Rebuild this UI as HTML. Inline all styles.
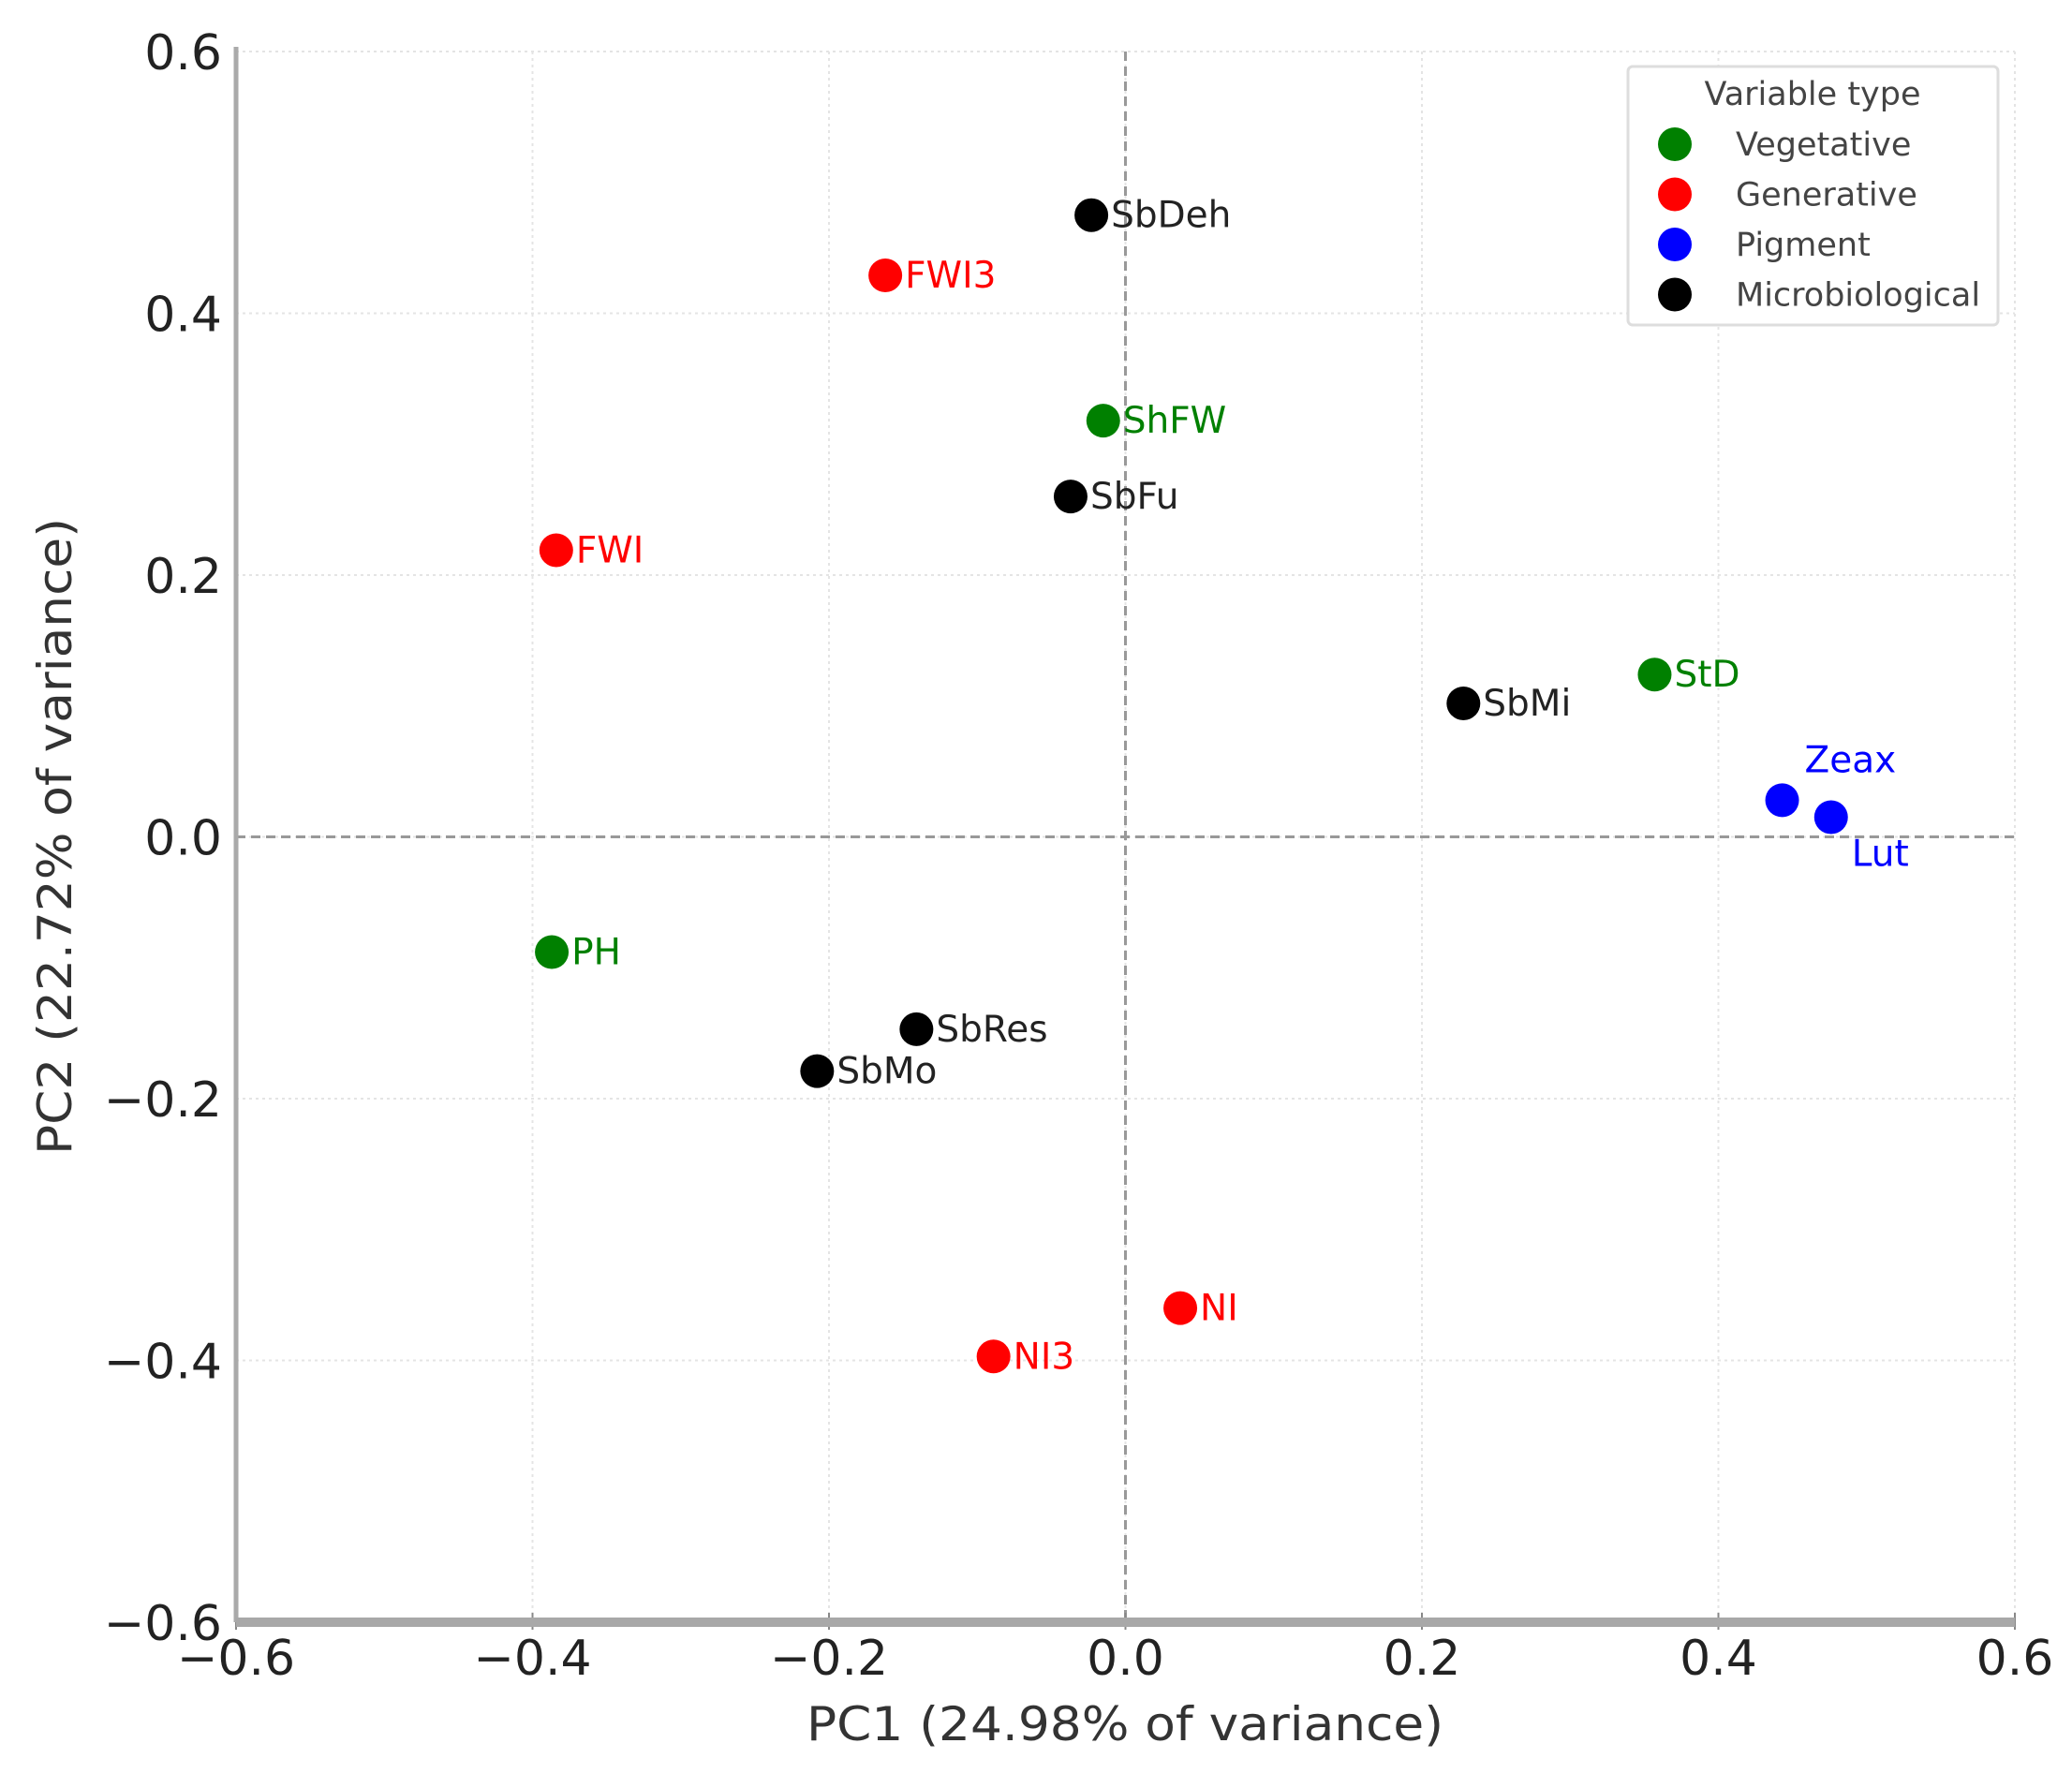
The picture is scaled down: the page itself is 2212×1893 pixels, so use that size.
<!DOCTYPE html>
<html><head><meta charset="utf-8"><style>
html,body{margin:0;padding:0;background:#fff}
svg{display:block;font-family:"DejaVu Sans","Liberation Sans",sans-serif}
</style></head><body>
<svg id="chart" width="2212" height="1893" viewBox="0 0 2212 1893" xmlns="http://www.w3.org/2000/svg">
<g id="grid"></g>
<g id="zero"></g>
<g id="axes"></g>
<g id="points"></g>
<text x="1201" y="1858" font-size="50" text-anchor="middle" fill="#333" textLength="680" lengthAdjust="spacingAndGlyphs">PC1 (24.98% of variance)</text>
<text transform="translate(76,893) rotate(-90)" font-size="50" text-anchor="middle" fill="#333" textLength="680" lengthAdjust="spacingAndGlyphs">PC2 (22.72% of variance)</text>
<g>
<rect x="1738" y="71" width="395" height="276" rx="5" fill="#fff" stroke="#ddd" stroke-width="3"/>
<text x="1935" y="112" font-size="35" text-anchor="middle" fill="#444">Variable type</text>
<g id="legend-entries"></g>
</g>
</svg>
<script>
const names = ["SbDeh","FWI3","ShFW","SbFu","FWI","SbMi","StD","Zeax","Lut","PH","SbRes","SbMo","NI","NI3"];
const pc1 = [-0.023,-0.162,-0.015,-0.037,-0.384,0.228,0.357,0.443,0.476,-0.387,-0.141,-0.208,0.037,-0.089];
const pc2 = [0.475,0.429,0.318,0.260,0.219,0.102,0.124,0.028,0.015,-0.088,-0.147,-0.179,-0.360,-0.397];
const types = ["Microbiological","Generative","Vegetative","Microbiological","Generative","Microbiological","Vegetative","Pigment","Pigment","Vegetative","Microbiological","Microbiological","Generative","Generative"];
const categories = ["Vegetative","Generative","Pigment","Microbiological"];
const ticks = [-0.6,-0.4,-0.2,0.0,0.2,0.4,0.6];
const tickLabels = ["\u22120.6","\u22120.4","\u22120.2","0.0","0.2","0.4","0.6"];

const colors = {Vegetative:"#008000",Generative:"#ff0000",Pigment:"#0000ff",Microbiological:"#000000"};
const NS="http://www.w3.org/2000/svg";
const X0=252,X1=2151,Y0=1732,Y1=55;
const sx=v=>X0+(v+0.6)/1.2*(X1-X0);
const sy=v=>Y0-(v+0.6)/1.2*(Y0-Y1);
function mk(tag,attrs,parent){const e=document.createElementNS(NS,tag);for(const k in attrs)e.setAttribute(k,attrs[k]);parent.appendChild(e);return e;}
const grid=document.getElementById('grid'),zero=document.getElementById('zero'),axes=document.getElementById('axes'),pts=document.getElementById('points');
ticks.forEach((t,i)=>{
  const gv=mk('line',{x1:sx(t),x2:sx(t),y1:Y1,y2:Y0,stroke:'#e4e4e4','stroke-width':2,'stroke-dasharray':'3,4'},grid);
  
  
  const gh=mk('line',{x1:X0,x2:X1,y1:sy(t),y2:sy(t),stroke:'#e4e4e4','stroke-width':2,'stroke-dasharray':'3,4'},grid);
  
  
  const xl=mk('text',{x:sx(t),y:1788,'font-size':52,'text-anchor':'middle',fill:'#222'},axes);
  xl.textContent=tickLabels[i];
  
  
  const yl=mk('text',{x:237,y:sy(t)+19,'font-size':52,'text-anchor':'end',fill:'#222'},axes);
  yl.textContent=tickLabels[i];
  
  
  const tk=mk('line',{x1:sx(t),x2:sx(t),y1:Y0-10,y2:Y0+8,stroke:'#888','stroke-width':2},axes);
  
  
});
const zv=mk('line',{x1:sx(0),x2:sx(0),y1:Y1,y2:Y0,stroke:'#999','stroke-width':3,'stroke-dasharray':'10,6'},zero);


const zh=mk('line',{x1:X0,x2:X1,y1:sy(0),y2:sy(0),stroke:'#999','stroke-width':3,'stroke-dasharray':'10,6'},zero);


const ls=mk('line',{x1:X0,x2:X0,y1:Y1-5,y2:Y0,stroke:'#aaa','stroke-width':5},axes);


const bs=mk('line',{x1:X0,x2:X1,y1:Y0,y2:Y0,stroke:'#a8a8a8','stroke-width':10},axes);


names.forEach((n,i)=>{
  const cx=sx(pc1[i]),cy=sy(pc2[i]),col=colors[types[i]];
  const c=mk('circle',{cx:cx,cy:cy,r:18,fill:col},pts);
  
  
  let tx=cx+21,ty=cy+13;
  if(n==='Zeax'){tx=cx+24;ty=cy-30;}
  if(n==='Lut'){tx=cx+22;ty=cy+52;}
  const t=mk('text',{x:tx,y:ty,'font-size':39,fill:col==='#000000'?'#222':col},pts);
  t.textContent=n;
  
  
});
const le=document.getElementById('legend-entries');
categories.forEach((c,i)=>{
  const y=154+i*53.5;
  const m=mk('circle',{cx:1788,cy:y,r:18,fill:colors[c]},le);
  
  
  const t=mk('text',{x:1853,y:y+12,'font-size':35,fill:'#444'},le);
  t.textContent=c;
  
  
});
</script>
</body></html>
